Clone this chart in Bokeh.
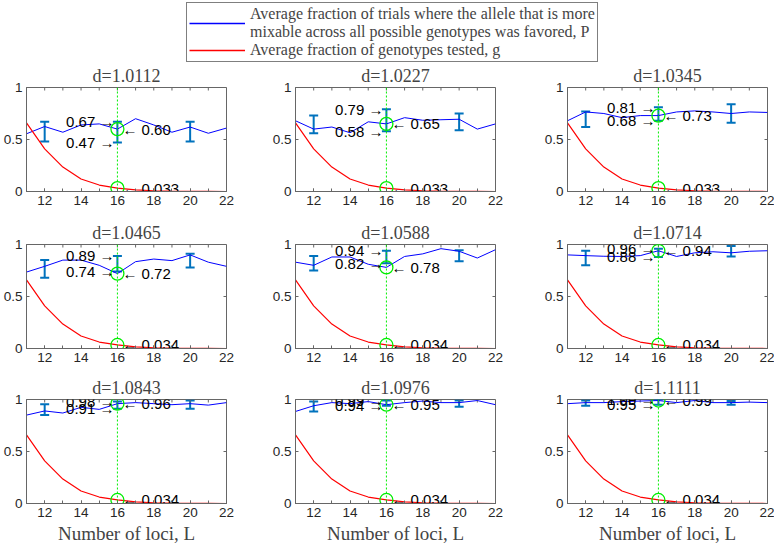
from math import pi

from bokeh.plotting import figure
from bokeh.models import (ColumnDataSource, Whisker, TeeHead, Span, Legend, LegendItem,
                          FixedTicker, NumeralTickFormatter, Range1d)
from bokeh.layouts import column, row
from bokeh.core.properties import value
from bokeh.embed import file_html
from bokeh.resources import INLINE

# --- data ---
d_values = [1.0112, 1.0227, 1.0345, 1.0465, 1.0588, 1.0714, 1.0843, 1.0976, 1.1111]
loci = [11, 12, 13, 14, 15, 16, 17, 18, 19, 20, 21, 22]

# average fraction P (blue), one list per panel
P_mean = [
    [0.555, 0.625, 0.57, 0.64, 0.65, 0.60, 0.70, 0.64, 0.57, 0.62, 0.56, 0.61],
    [0.68, 0.60, 0.62, 0.565, 0.67, 0.65, 0.71, 0.685, 0.69, 0.695, 0.60, 0.65],
    [0.68, 0.765, 0.75, 0.71, 0.73, 0.73, 0.765, 0.775, 0.765, 0.75, 0.765, 0.76],
    [0.735, 0.79, 0.85, 0.85, 0.80, 0.72, 0.835, 0.86, 0.845, 0.90, 0.83, 0.79],
    [0.83, 0.80, 0.88, 0.88, 0.81, 0.78, 0.885, 0.91, 0.96, 0.935, 0.87, 0.95],
    [0.90, 0.893, 0.887, 0.885, 0.893, 0.94, 0.885, 0.92, 0.93, 0.92, 0.935, 0.94],
    [0.85, 0.89, 0.87, 0.925, 0.905, 0.96, 0.97, 0.96, 0.95, 0.96, 0.946, 0.97],
    [0.885, 0.94, 0.97, 0.96, 0.98, 0.95, 0.97, 0.985, 0.97, 0.97, 0.99, 0.95],
    [0.96, 0.97, 0.97, 0.98, 0.985, 0.99, 0.97, 0.99, 0.97, 0.97, 0.975, 0.97],
]

# error bars at L = 12, 16, 20
bar_loci = [12, 16, 20]
bar_lower = [
    [0.48, 0.47, 0.48], [0.56, 0.58, 0.59], [0.62, 0.68, 0.66],
    [0.68, 0.74, 0.78], [0.75, 0.82, 0.84], [0.80, 0.88, 0.885],
    [0.85, 0.91, 0.91], [0.885, 0.94, 0.93], [0.94, 0.95, 0.95],
]
bar_upper = [
    [0.67, 0.67, 0.67], [0.73, 0.79, 0.75], [0.77, 0.81, 0.84],
    [0.85, 0.89, 0.91], [0.89, 0.94, 0.945], [0.94, 0.96, 0.985],
    [0.955, 0.98, 0.99], [0.98, 0.99, 0.99], [0.99, 1.00, 0.985],
]

# average fraction of genotypes tested, g (red)
g_first_row = [0.66, 0.41, 0.235, 0.12, 0.062, 0.033, 0.016, 0.007, 0.003, 0.001, 0.0005, 0.0002]
g_other_rows = [0.66, 0.41, 0.235, 0.12, 0.062, 0.034, 0.016, 0.007, 0.003, 0.001, 0.0005, 0.0002]

marked_L = 16
x_ticks = [12, 14, 16, 18, 20, 22]
x_minor = [11, 12, 13, 14, 15, 16, 17, 18, 19, 20, 21, 22]
y_ticks = [0, 0.5, 1]

SANS = "Liberation Sans"
SERIF = "Liberation Serif"
BOX = "#666666"
BAR_BLUE = "#0072bd"
GREEN = "#00ee00"

left_border = [22, 22, 22]
right_border = [43, 46, 7]
bottom_border = [28, 26, 43]


def style_axis(ax):
    ax.axis_line_color = BOX
    ax.major_tick_line_color = BOX
    ax.minor_tick_line_color = BOX
    ax.major_tick_in = 3
    ax.major_tick_out = 0
    ax.minor_tick_in = 3
    ax.minor_tick_out = 0
    ax.major_label_text_font = SANS
    ax.major_label_text_font_size = "13.5px"
    ax.major_label_text_color = "#262626"
    ax.major_label_standoff = 4


def make_panel(i):
    c, r = i % 3, i // 3
    g = g_first_row if r == 0 else g_other_rows
    k = loci.index(marked_L)
    b = bar_loci.index(marked_L)

    p = figure(
        frame_width=200, frame_height=104,
        x_range=Range1d(loci[0], loci[-1]), y_range=Range1d(y_ticks[0], y_ticks[-1]),
        title=f"d={d_values[i]:.4f}",
        toolbar_location=None, output_backend="svg",
        min_border_left=left_border[c], min_border_right=right_border[c],
        min_border_top=23, min_border_bottom=bottom_border[r],
    )
    p.title.text_font = SERIF
    p.title.text_font_size = "18px"
    p.title.text_font_style = "normal"
    p.title.align = "center"
    p.title.standoff = 3
    p.outline_line_color = BOX
    p.outline_line_alpha = 1
    p.grid.visible = False

    xax = p.below[0]
    yax = p.left[0]
    xax.ticker = FixedTicker(ticks=x_ticks, minor_ticks=x_minor)
    yax.ticker = FixedTicker(ticks=y_ticks, minor_ticks=[])
    yax.formatter = NumeralTickFormatter(format="0.[0]")
    style_axis(xax)
    style_axis(yax)

    if r == 2:
        xax.axis_label = "Number of loci, L"
        xax.axis_label_text_font = SERIF
        xax.axis_label_text_font_size = "19px"
        xax.axis_label_text_font_style = "normal"
        xax.axis_label_standoff = 3

    # mirrored inward ticks on the top and right edges of the box
    p.ray(x=x_minor, y=y_ticks[-1], length=3, length_units="screen",
          angle=-pi / 2, line_color=BOX, line_width=1)
    p.ray(x=loci[-1], y=y_ticks, length=3, length_units="screen",
          angle=pi, line_color=BOX, line_width=1)

    src = ColumnDataSource(dict(L=loci, P=P_mean[i], g=g))
    bars = ColumnDataSource(dict(L=bar_loci, lower=bar_lower[i], upper=bar_upper[i]))

    p.add_layout(Span(location=marked_L, dimension="height", line_color=GREEN,
                      line_dash="2 2", line_width=1))

    p.add_layout(Whisker(
        source=bars, base="L", lower="lower", upper="upper",
        line_color=BAR_BLUE, line_width=2,
        upper_head=TeeHead(size=9, line_color=BAR_BLUE, line_width=2),
        lower_head=TeeHead(size=9, line_color=BAR_BLUE, line_width=2),
    ))

    p.line("L", "P", source=src, line_color="#0000ff", line_width=1)
    p.line("L", "g", source=src, line_color="#ff0000", line_width=1.2)

    mark = ColumnDataSource(dict(x=[marked_L, marked_L], y=[P_mean[i][k], g[k]]))
    p.scatter("x", "y", source=mark, marker="circle", size=13, fill_color=None,
              line_color=GREEN, line_width=1.3)

    lo, hi = bar_lower[i][b], bar_upper[i][b]
    left_txt = ColumnDataSource(dict(
        x=[marked_L, marked_L], y=[hi, lo],
        t=[f"{hi:.2f} \u2192", f"{lo:.2f} \u2192"],
    ))
    p.text("x", "y", text="t", source=left_txt, text_align="right",
           text_baseline="middle", x_offset=-3, text_font=value(SANS),
           text_font_size="15px", text_color="black")

    right_txt = ColumnDataSource(dict(
        x=[marked_L, marked_L], y=[P_mean[i][k], g[k]],
        t=[f"\u2190 {P_mean[i][k]:.2f}", f"\u2190 {g[k]:.3f}"],
    ))
    p.text("x", "y", text="t", source=right_txt, text_align="left",
           text_baseline="middle", x_offset=5, text_font=value(SANS),
           text_font_size="15px", text_color="black")
    return p


panels = [make_panel(i) for i in range(9)]

# --- legend strip (its sample lines sit outside the visible range) ---
lg = figure(width=762, height=62, x_axis_type=None, y_axis_type=None,
            x_range=Range1d(0, 1), y_range=Range1d(0, 1),
            toolbar_location=None, output_backend="svg", min_border=0,
            outline_line_color=None)
r_blue = lg.line(x=loci, y=P_mean[0], line_color="#0000ff", line_width=1.5)
r_red = lg.line(x=loci, y=g_first_row, line_color="#ff0000", line_width=1.5)
legend = Legend(
    items=[
        LegendItem(label="Average fraction of trials where the allele that is more\n"
                         "mixable across all possible genotypes was favored, P",
                   renderers=[r_blue]),
        LegendItem(label="Average fraction of genotypes tested, g", renderers=[r_red]),
    ],
    location=(186, 0),
    border_line_color="black", border_line_width=1,
    label_text_font=SERIF, label_text_font_size="16px",
    label_text_line_height=1.05,
    glyph_width=56, glyph_height=16, label_height=16,
    label_standoff=5, padding=2, spacing=0, margin=0,
)
lg.add_layout(legend, "center")

layout = column(
    lg,
    row(*panels[0:3]),
    row(*panels[3:6]),
    row(*panels[6:9]),
)

open("out.html", "w").write(file_html(layout, INLINE))
